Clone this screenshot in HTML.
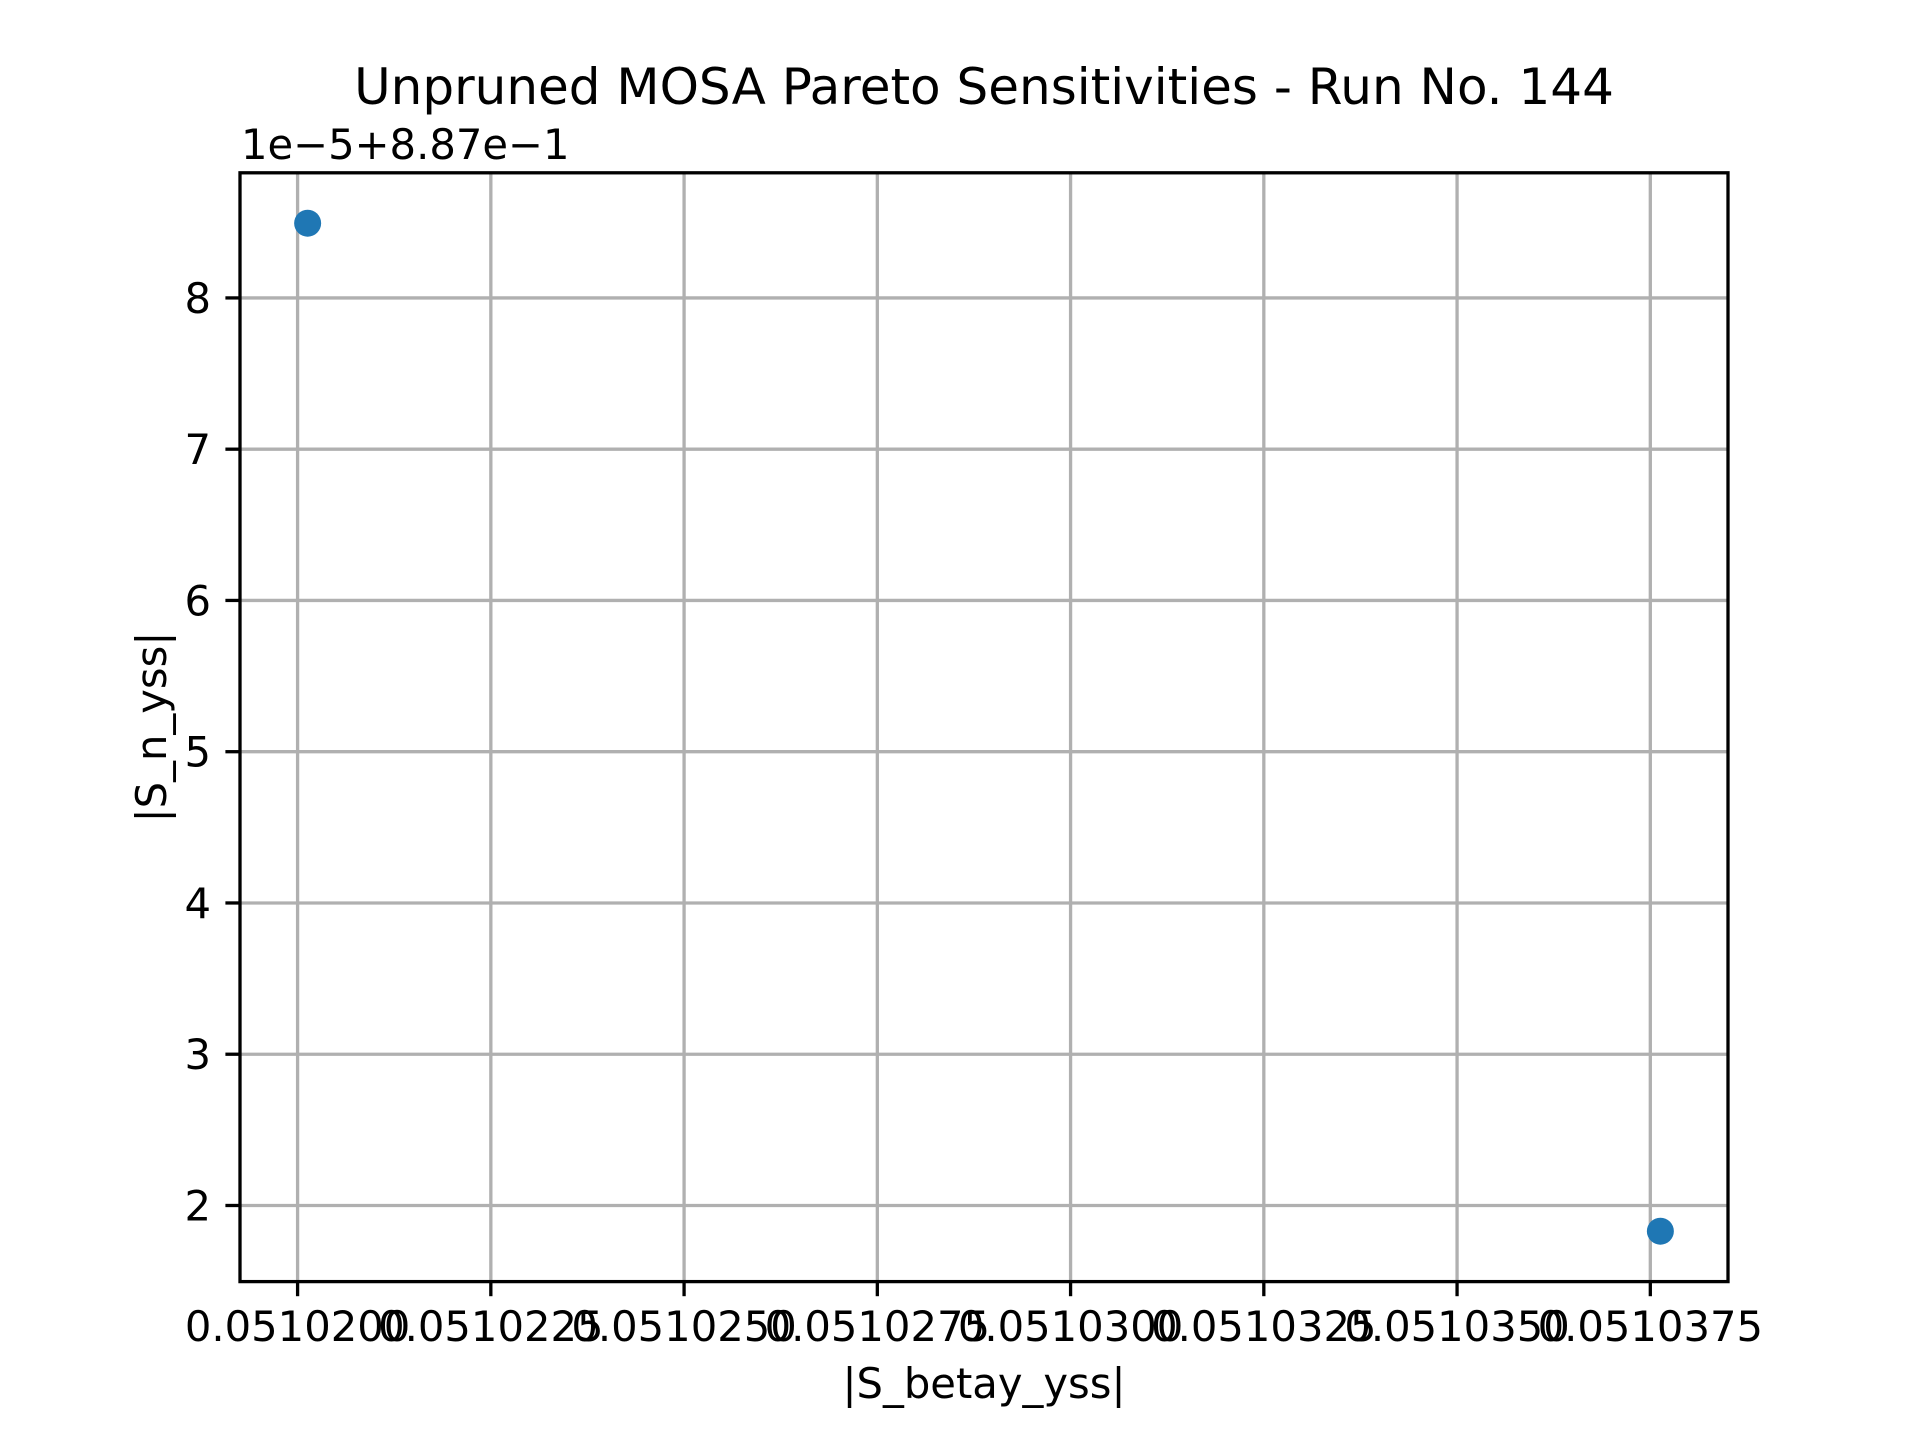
<!DOCTYPE html>
<html><head><meta charset="utf-8"><style>
html,body{margin:0;padding:0;background:#fff}
svg{display:block;font-family:"DejaVu Sans","Liberation Sans",sans-serif}
</style></head><body>
<svg id="chart" width="1920" height="1440" viewBox="0 0 1920 1440" xmlns="http://www.w3.org/2000/svg">
<rect width="1920" height="1440" fill="#fff"/>
<text x="984" y="104" font-size="50" text-anchor="middle" fill="#000">Unpruned MOSA Pareto Sensitivities - Run No. 144</text>
<text x="241" y="159" font-size="41.7" fill="#000">1e−5+8.87e−1</text>
<g id="grid"></g>
<g id="ticks"></g>
<g id="points"></g>
<rect x="240" y="172.8" width="1488" height="1108.8" fill="none" stroke="#000" stroke-width="3.3"/>
<text x="984" y="1398" font-size="41.7" text-anchor="middle" fill="#000">|S_betay_yss|</text>
<text x="0" y="0" font-size="41.7" text-anchor="middle" fill="#000" transform="translate(166,727) rotate(-90)">|S_n_yss|</text>
</svg>
<script>
const xValues = [0.05102013, 0.05103763];
const yValues = [8.494, 1.83]; // units of 1e-5 offset from 0.887
const xTicks = [0.0510200, 0.0510225, 0.0510250, 0.0510275, 0.0510300, 0.0510325, 0.0510350, 0.0510375];
const xTickLabels = ["0.0510200","0.0510225","0.0510250","0.0510275","0.0510300","0.0510325","0.0510350","0.0510375"];
const yTicks = [2,3,4,5,6,7,8];
const yTickLabels = ["2","3","4","5","6","7","8"];

const L=240,R=1728,T=172.8,B=1281.6;
const xmin0=Math.min(...xValues),xmax0=Math.max(...xValues);
const ymin0=Math.min(...yValues),ymax0=Math.max(...yValues);
const xm=(xmax0-xmin0)*0.05,ym=(ymax0-ymin0)*0.05;
const xmin=xmin0-xm,xmax=xmax0+xm,ymin=ymin0-ym,ymax=ymax0+ym;
const sx=v=>L+(v-xmin)/(xmax-xmin)*(R-L);
const sy=v=>B-(v-ymin)/(ymax-ymin)*(B-T);
const NS="http://www.w3.org/2000/svg";
function mk(tag,attrs,parent){const e=document.createElementNS(NS,tag);for(const k in attrs)e.setAttribute(k,attrs[k]);parent.appendChild(e);return e;}
const grid=document.getElementById('grid'),ticks=document.getElementById('ticks'),pts=document.getElementById('points');
xTicks.forEach((v,i)=>{
  const x=sx(v);
  const g=mk('line',{x1:x,x2:x,y1:T,y2:B,stroke:'#b0b0b0','stroke-width':3.3},grid);
  
  
  const t=mk('line',{x1:x,x2:x,y1:B,y2:B+14.6,stroke:'#000','stroke-width':3.3},ticks);
  
  
  const l=mk('text',{x:x,y:1341,'font-size':41.7,'text-anchor':'middle',fill:'#000'},ticks);
  l.textContent=xTickLabels[i];
  
  
});
yTicks.forEach((v,i)=>{
  const y=sy(v);
  const g=mk('line',{x1:L,x2:R,y1:y,y2:y,stroke:'#b0b0b0','stroke-width':3.3},grid);
  
  
  const t=mk('line',{x1:L-14.6,x2:L,y1:y,y2:y,stroke:'#000','stroke-width':3.3},ticks);
  
  
  const l=mk('text',{x:211,y:y+15,'font-size':41.7,'text-anchor':'end',fill:'#000'},ticks);
  l.textContent=yTickLabels[i];
  
  
});
xValues.forEach((v,i)=>{
  const c=mk('circle',{cx:sx(v),cy:sy(yValues[i]),r:13.5,fill:'#1f77b4'},pts);
  
  
});
</script>
</body></html>
